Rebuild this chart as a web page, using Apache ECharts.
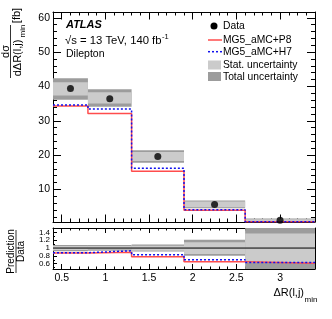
<!DOCTYPE html>
<html><head><meta charset="utf-8">
<script src="https://cdn.jsdelivr.net/npm/echarts@6/dist/echarts.min.js"></script>
<style>html,body{margin:0;padding:0;background:#fff}#c{width:332px;height:319px}</style>
</head><body><div id="c"></div>
<script>
const binEdges = [0.4, 0.8, 1.3, 1.9, 2.6, 3.4];
const dataValues = [39.4, 36.4, 19.6, 5.6, 1.0];
const predP8 = [34.3, 32.1, 15.3, 3.9, 0.6];
const predH7 = [34.6, 33.4, 16.2, 4.1, 0.6];
const totalHi = [42.4, 39.2, 21.4, 6.8, 1.5];
const totalLo = [36.1, 34.1, 17.8, 4.5, 0.4];
const statHi = [41.2, 38.3, 20.9, 6.5, 1.3];
const statLo = [37.4, 35.0, 18.3, 4.8, 0.6];
const ratioP8 = [0.87, 0.89, 0.78, 0.65, 0.61];
const ratioH7 = [0.88, 0.93, 0.83, 0.70, 0.63];
const ratioTotalHi = [1.08, 1.08, 1.09, 1.21, 1.6];
const ratioTotalLo = [0.92, 0.93, 0.91, 0.80, 0.4];
const ratioStatHi = [1.05, 1.05, 1.06, 1.15, 1.37];
const ratioStatLo = [0.95, 0.96, 0.93, 0.85, 0.62];
const xTickLabels = [0.5, 1, 1.5, 2, 2.5, 3];
const yMainTickLabels = [10, 20, 30, 40, 50, 60];
const yRatioTickLabels = [0.6, 0.8, 1, 1.2, 1.4];

const FONT = "'Liberation Sans', Arial, sans-serif";
const X_MIN = 0.4, X_MAX = 3.4;
const Y_MIN = 0.5, Y_MAX = 61.7;
const R_MIN = 0.463, R_MAX = 1.514;

const xMinor = []; for (let i = 4; i <= 34; i++) if (i % 5) xMinor.push(i / 10);
const yMinor = []; for (let i = 2; i <= 60; i += 2) if (i % 10) yMinor.push(i);
const rMinor = [0.5, 0.7, 0.9, 1.1, 1.3, 1.5];

function xAx(grid, pos, ticks, len, labels, line) {
  return {type:'value', gridIndex:grid, position:pos, min:X_MIN, max:X_MAX,
    axisLine:{show:line, onZero:false, lineStyle:{color:'#000', width:1}},
    axisTick:{show:true, inside:true, length:len, customValues:ticks, lineStyle:{color:'#000', width:1}},
    axisLabel:{show:labels, customValues:xTickLabels, margin:4, color:'#000', fontSize:10.5, fontFamily:FONT},
    splitLine:{show:false}};
}
function yAx(grid, pos, min, max, ticks, labelVals, len, labels, line, fs) {
  return {type:'value', gridIndex:grid, position:pos, min:min, max:max,
    axisLine:{show:line, onZero:false, lineStyle:{color:'#000', width:1}},
    axisTick:{show:true, inside:true, length:len, customValues:ticks, lineStyle:{color:'#000', width:1}},
    axisLabel:{show:labels, customValues:labelVals, margin:3, color:'#000', fontSize:fs, fontFamily:FONT},
    splitLine:{show:false}};
}
function bandSeries(lo, hi, color, xi, yi, ymin, ymax) {
  return {type:'custom', xAxisIndex:xi, yAxisIndex:yi, silent:true, z:1,
    data: lo.map((v, i) => [binEdges[i], binEdges[i + 1], v, hi[i]]),
    renderItem(params, api) {
      const y0 = Math.max(api.value(2), ymin), y1 = Math.min(api.value(3), ymax);
      const p0 = api.coord([api.value(0), y1]);
      const p1 = api.coord([api.value(1), y0]);
      return {type:'rect', shape:{x:p0[0], y:p0[1], width:p1[0] - p0[0], height:p1[1] - p0[1]}, style:{fill:color}};
    }};
}
function stepData(vals) {
  const d = vals.map((v, i) => [binEdges[i], v]);
  d.push([binEdges[binEdges.length - 1], vals[vals.length - 1]]);
  return d;
}
const RED = '#ff4d4d', BLUE = '#1010ee';
function stepLine(vals, xi, yi, color, dashed, z) {
  return {type:'line', xAxisIndex:xi, yAxisIndex:yi, step:'end', symbol:'none', silent:true, z:z,
    data: stepData(vals), lineStyle:{color:color, width:1.5, type: dashed ? [2, 2] : 'solid'}};
}
function rtext(txt, x, y, fs, rot) {
  return {type:'text', x:x, y:y, rotation: rot ? Math.PI / 2 : 0,
    style:{text:txt, x:0, y:0, fill:'#000', font: fs + 'px ' + FONT, align:'center', verticalAlign:'middle'}};
}
function ltext(txt, x, y, fs, extra) {
  return {type:'text', style:{text:txt, x:x, y:y, fill:'#000', font:(extra || '') + ' ' + fs + 'px ' + FONT, align:'left', verticalAlign:'middle'}};
}
const mctx = document.createElement('canvas').getContext('2d');
mctx.font = '11.3px ' + FONT;
const energyText = '√s = 13 TeV, 140 fb';
const energyW = mctx.measureText(energyText).width;

const chart = echarts.init(document.getElementById('c'), null, {renderer:'canvas'});
chart.setOption({
  animation:false,
  grid:[{left:53, top:12, width:262, height:210}, {left:53, top:228, width:262, height:41}],
  xAxis:[
    xAx(0, 'bottom', xTickLabels, 7.5, false, true),
    xAx(0, 'bottom', xMinor, 3.5, false, false),
    xAx(0, 'top', xTickLabels, 7.5, false, true),
    xAx(0, 'top', xMinor, 3.5, false, false),
    xAx(1, 'bottom', xTickLabels, 5, true, true),
    xAx(1, 'bottom', xMinor, 2.5, false, false),
    xAx(1, 'top', xTickLabels, 5, false, true),
    xAx(1, 'top', xMinor, 2.5, false, false)
  ],
  yAxis:[
    yAx(0, 'left', Y_MIN, Y_MAX, yMainTickLabels, yMainTickLabels, 8, true, true, 10.5),
    yAx(0, 'left', Y_MIN, Y_MAX, yMinor, yMainTickLabels, 4, false, false, 10.5),
    yAx(0, 'right', Y_MIN, Y_MAX, yMainTickLabels, yMainTickLabels, 8, false, true, 10.5),
    yAx(0, 'right', Y_MIN, Y_MAX, yMinor, yMainTickLabels, 4, false, false, 10.5),
    yAx(1, 'left', R_MIN, R_MAX, yRatioTickLabels, yRatioTickLabels, 4, true, true, 8),
    yAx(1, 'left', R_MIN, R_MAX, rMinor, yRatioTickLabels, 2, false, false, 8),
    yAx(1, 'right', R_MIN, R_MAX, yRatioTickLabels, yRatioTickLabels, 4, false, true, 8),
    yAx(1, 'right', R_MIN, R_MAX, rMinor, yRatioTickLabels, 2, false, false, 8)
  ],
  series:[
    bandSeries(totalLo, totalHi, '#9c9c9c', 0, 0, Y_MIN, Y_MAX),
    bandSeries(statLo, statHi, '#cbcbcb', 0, 0, Y_MIN, Y_MAX),
    stepLine(predP8, 0, 0, RED, false, 3),
    stepLine(predH7, 0, 0, BLUE, true, 4),
    {type:'scatter', xAxisIndex:0, yAxisIndex:0, symbol:'circle', symbolSize:7, silent:true, z:5,
      itemStyle:{color:'#000'},
      data: dataValues.map((v, i) => [(binEdges[i] + binEdges[i + 1]) / 2, v])},
    bandSeries(ratioTotalLo, ratioTotalHi, '#9c9c9c', 4, 4, R_MIN, R_MAX),
    bandSeries(ratioStatLo, ratioStatHi, '#cbcbcb', 4, 4, R_MIN, R_MAX),
    {type:'line', xAxisIndex:4, yAxisIndex:4, symbol:'none', silent:true, z:2,
      data:[[X_MIN, 1], [X_MAX, 1]], lineStyle:{color:'#000', width:1}},
    stepLine(ratioP8, 4, 4, RED, false, 3),
    stepLine(ratioH7, 4, 4, BLUE, true, 4)
  ],
  graphic:[
    ltext('ATLAS', 66, 25, 11, 'italic bold'),
    ltext(energyText, 65, 41, 11.3),
    ltext('-1', 65 + energyW + 0.5, 37, 7.5),
    ltext('Dilepton', 66, 54.5, 10.5),
    {type:'circle', shape:{cx:214, cy:26, r:3.5}, style:{fill:'#000'}},
    {type:'line', shape:{x1:208, y1:40, x2:222, y2:40}, style:{stroke:RED, lineWidth:1.5}},
    {type:'line', shape:{x1:208, y1:51.7, x2:222, y2:51.7}, style:{stroke:BLUE, lineWidth:1.5, lineDash:[2, 2]}},
    {type:'rect', shape:{x:208, y:60.5, width:13, height:9}, style:{fill:'#cbcbcb'}},
    {type:'rect', shape:{x:208, y:72, width:13, height:9}, style:{fill:'#9c9c9c'}},
    ltext('Data', 223, 26, 10.3),
    ltext('MG5_aMC+P8', 223, 40, 10.3),
    ltext('MG5_aMC+H7', 223, 51.7, 10.3),
    ltext('Stat. uncertainty', 223, 65, 10.3),
    ltext('Total uncertainty', 223, 76.7, 10.3),
    rtext('dσ', 5.5, 51.5, 11, true),
    {type:'line', shape:{x1:10.5, y1:25, x2:10.5, y2:78}, style:{stroke:'#000', lineWidth:0.8}},
    rtext('dΔR(l,j)', 17.5, 58, 11, true),
    rtext('min', 22.5, 31, 8, true),
    rtext('[fb]', 17, 15.5, 11, true),
    rtext('Prediction', 11, 251.5, 10, true),
    {type:'line', shape:{x1:16, y1:230, x2:16, y2:273}, style:{stroke:'#000', lineWidth:0.8}},
    rtext('Data', 21.5, 251.5, 10, true),
    {type:'text', style:{text:'ΔR(l,j)', x:304, y:293, fill:'#000', font:'11px ' + FONT, align:'right', verticalAlign:'middle'}},
    ltext('min', 304.5, 299.5, 8)
  ]
});
</script></body></html>
